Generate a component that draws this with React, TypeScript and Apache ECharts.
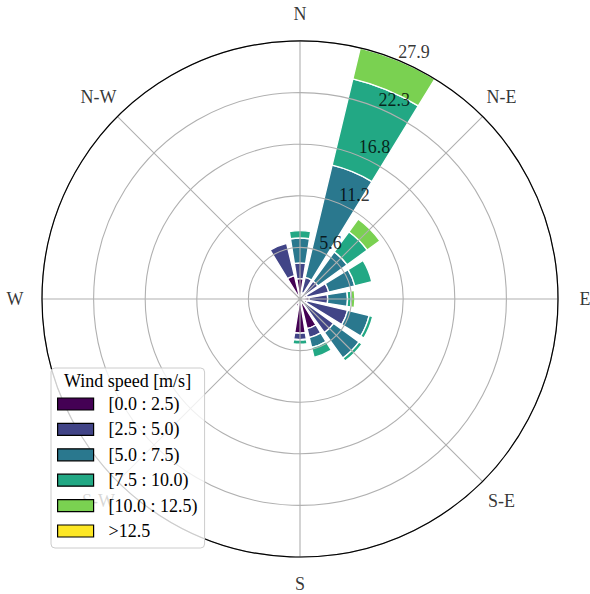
import React, { useEffect, useRef } from 'react';
import * as echarts from 'echarts';

// 16 sectors, clockwise from north
const directions = ['N', 'NNE', 'NE', 'ENE', 'E', 'ESE', 'SE', 'SSE', 'S', 'SSW', 'SW', 'WSW', 'W', 'WNW', 'NW', 'NNW'];

// compass tick labels
const compassLabels = ['N', 'N-E', 'E', 'S-E', 'S', 'S-W', 'W', 'N-W'];
const compassAngles = [0, 45, 90, 135, 180, 225, 270, 315];

// speed bins
const binLabels = ['[0.0 : 2.5)', '[2.5 : 5.0)', '[5.0 : 7.5)', '[7.5 : 10.0)', '[10.0 : 12.5)', '>12.5'];
const binColors = ['#440154', '#414487', '#2a788e', '#22a884', '#7ad151', '#fde725'];

// frequency per direction for each speed bin
const speed0to2_5 = [2.2, 0.7, 0.5, 0.8, 1.0, 0.8, 0.6, 3.3, 3.7, 0.8, 0.2, 0, 0.1, 0.1, 0.4, 2.6];
const speed2_5to5 = [1.7, 1.7, 1.9, 2.4, 2.0, 4.5, 3.9, 1.0, 0.7, 0, 0, 0, 0, 0, 0, 3.6];
const speed5to7_5 = [2.7, 12.5, 3.9, 2.9, 2.15, 2.4, 3.4, 1.1, 0.05, 0, 0, 0, 0, 0, 0, 0];
const speed7_5to10 = [0.8, 9.6, 2.7, 1.9, 0.42, 0.4, 0.4, 1.1, 0.45, 0, 0, 0, 0, 0, 0, 0];
const speed10to12_5 = [0, 3.42, 1.7, 0, 0.38, 0, 0, 0, 0, 0, 0, 0, 0, 0, 0, 0];
const speedAbove12_5 = [0, 0, 0, 0, 0, 0, 0, 0, 0, 0, 0, 0, 0, 0, 0, 0];

// radial axis
const rMax = 27.92;
const radiusTicks = [5.584, 11.168, 16.752, 22.336, 27.92];
const radiusLabelAngle = 22.5;
const compassLabelRadiusFactor = 1.105;

const FONT = "'Liberation Serif', 'Times New Roman', serif";

export default function App() {
  const ref = useRef<HTMLDivElement>(null);

  useEffect(() => {
    if (!ref.current) return;
    const chart = echarts.init(ref.current, null, { renderer: 'svg' });
    const bins = [speed0to2_5, speed2_5to5, speed5to7_5, speed7_5to10, speed10to12_5, speedAbove12_5];

    const barSeries = binLabels.map((name, i) => ({
      name,
      type: 'bar',
      coordinateSystem: 'polar',
      polarIndex: 0,
      stack: 'speed',
      barCategoryGap: '20%',
      data: bins[i].map((v) => (v > 0 ? v : null)),
      itemStyle: { color: binColors[i], borderColor: '#ffffff', borderWidth: 1.4 },
      emphasis: { disabled: true },
      z: 2,
    }));

    const plainLabel = {
      fontSize: 18,
      fontFamily: FONT,
      color: '#000000',
      textBorderWidth: 0,
      textBorderColor: 'transparent',
      textShadowBlur: 0,
    };

    const option: any = {
      animation: false,
      polar: [
        { center: [300, 299], radius: 258 },
        { center: [300, 299], radius: 258 },
      ],
      angleAxis: [
        {
          polarIndex: 0,
          type: 'category',
          data: directions,
          startAngle: 90 + 360 / directions.length / 2,
          clockwise: true,
          show: false,
        },
        {
          polarIndex: 1,
          type: 'value',
          min: 0,
          max: 360,
          interval: 45,
          startAngle: 90,
          clockwise: true,
          z: 6,
          axisLine: { show: true, lineStyle: { color: '#000000', width: 1.2 } },
          axisTick: { show: false },
          axisLabel: { show: false },
          splitLine: { show: true, lineStyle: { color: '#b0b0b0', width: 1.1 } },
        },
      ],
      radiusAxis: [
        { polarIndex: 0, type: 'value', min: 0, max: rMax, show: false },
        {
          polarIndex: 1,
          type: 'value',
          min: 0,
          max: rMax,
          interval: rMax / 5,
          z: 5,
          axisLine: { show: false },
          axisTick: { show: false },
          axisLabel: { show: false },
          splitLine: { show: true, lineStyle: { color: '#b0b0b0', width: 1.1 } },
        },
      ],
      legend: {
        data: binLabels,
        orient: 'vertical',
        left: 51,
        top: 368,
        padding: [27, 7, 8, 6],
        itemGap: 7.4,
        itemWidth: 36,
        itemHeight: 12,
        icon: 'rect',
        selectedMode: false,
        z: 10,
        backgroundColor: 'rgba(255,255,255,0.8)',
        borderColor: '#cccccc',
        borderWidth: 1,
        borderRadius: 4,
        itemStyle: { borderColor: '#000000', borderWidth: 1.2 },
        formatter: (name: string) => `{a|${name}}`,
        textStyle: {
          rich: {
            a: { fontSize: 18, fontFamily: FONT, color: '#000000', padding: [0, 0, 0, 10], lineHeight: 18 },
          },
        },
      },
      graphic: [
        {
          type: 'text',
          z: 11,
          x: 127.5,
          y: 381,
          style: {
            text: 'Wind speed [m/s]',
            fontSize: 18,
            fontFamily: FONT,
            fill: '#000000',
            align: 'center',
            verticalAlign: 'middle',
          },
        },
      ],
      series: [
        ...barSeries,
        {
          type: 'scatter',
          coordinateSystem: 'polar',
          polarIndex: 1,
          clip: false,
          silent: true,
          symbolSize: 1,
          itemStyle: { color: 'rgba(0,0,0,0)' },
          data: radiusTicks.map((r) => [r, radiusLabelAngle]),
          label: {
            show: true,
            position: 'insideBottomLeft',
            distance: 0,
            formatter: (p: any) => Number(p.value[0]).toFixed(1),
            ...plainLabel,
          },
          z: 7,
        },
        {
          type: 'scatter',
          coordinateSystem: 'polar',
          polarIndex: 1,
          clip: false,
          silent: true,
          symbolSize: 1,
          itemStyle: { color: 'rgba(0,0,0,0)' },
          data: compassAngles.map((a) => [rMax * compassLabelRadiusFactor, a]),
          label: {
            show: true,
            position: 'inside',
            formatter: (p: any) => compassLabels[p.dataIndex],
            ...plainLabel,
          },
          z: 7,
        },
      ],
    };

    chart.setOption(option);
    return () => chart.dispose();
  }, []);

  return <div ref={ref} style={{ position: 'absolute', left: 0, top: 0, width: 590, height: 594 }} />;
}
